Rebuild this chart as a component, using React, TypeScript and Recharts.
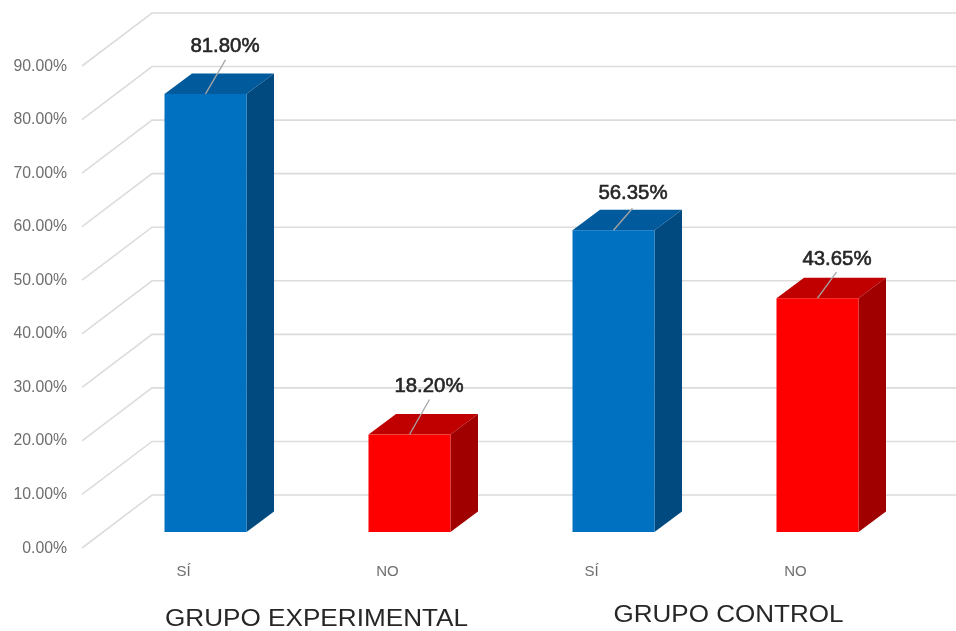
import React from "react";
import { BarChart, Bar, XAxis, YAxis, CartesianGrid, LabelList } from "recharts";

const categories = ["SÍ", "NO", "SÍ", "NO"];
const values = [81.8, 18.2, 56.35, 43.65];
const yTicks = [0, 10, 20, 30, 40, 50, 60, 70, 80, 90];
const groupNames = ["GRUPO EXPERIMENTAL", "GRUPO CONTROL"];
const data = categories.map((name, i) => ({ key: i, name, value: values[i] }));

const FONT = "'Liberation Sans', Arial, sans-serif";
const DX = 27.5;
const DY = 20.5;
const FRONT = ["#0070c0", "#ff0000", "#0070c0", "#ff0000"];
const TOP = ["#005a9c", "#c00000", "#005a9c", "#c00000"];
const SIDE = ["#004a80", "#a00000", "#004a80", "#a00000"];
const LABEL_RISE = [49, 50, 38, 40];
const LEADER = [[20, 34], [20, 35], [19, 22], [19, 26]];
const GROUP_POS = [{ dx: -40.5, y: 626, len: 303 }, { dx: 0, y: 622, len: 230 }];

function Box3D(props: any) {
  const { x, y, width: w, height: h, index } = props;
  return (
    <g>
      <polygon
        points={`${x},${y} ${x + DX},${y - DY} ${x + w + DX},${y - DY} ${x + w},${y}`}
        fill={TOP[index]}
      />
      <polygon
        points={`${x + w},${y} ${x + w + DX},${y - DY} ${x + w + DX},${y + h - DY} ${x + w},${y + h}`}
        fill={SIDE[index]}
      />
      <rect x={x} y={y} width={w} height={h} fill={FRONT[index]} />
    </g>
  );
}

function ValueLabel(props: any) {
  const { x, y, width: w, value, index } = props;
  const cx = x + w / 2;
  const [lx, ly] = LEADER[index];
  return (
    <g>
      <line x1={cx} y1={y} x2={cx + lx} y2={y - ly} stroke="#a6a6a6" strokeWidth={1.3} />
      <text
        x={cx + 19.5}
        y={y - LABEL_RISE[index]}
        textAnchor="middle"
        dominantBaseline="central"
        fontFamily={FONT}
        fontSize={20.4}
        fill="#262626"
        stroke="#262626"
        strokeWidth={0.6}
      >
        {Number(value).toFixed(2)}%
      </text>
    </g>
  );
}

function YTick(props: any) {
  const { y, payload } = props;
  return (
    <text
      x={67}
      y={y + 15}
      textAnchor="end"
      dominantBaseline="central"
      fontFamily={FONT}
      fontSize={15.8}
      fill="#6e6e6e"
    >
      {Number(payload.value).toFixed(2)}%
    </text>
  );
}

function XTick(props: any) {
  const { x, y, payload, index } = props;
  const even = index % 2 === 0;
  const pos = GROUP_POS[index / 2];
  return (
    <g>
      <text
        x={x - 22}
        y={y + 30}
        textAnchor="middle"
        dominantBaseline="central"
        fontFamily={FONT}
        fontSize={15}
        fill="#6e6e6e"
      >
        {categories[payload.value]}
      </text>
      {even ? (
        <text
          x={x + pos.dx}
          y={pos.y}
          textLength={pos.len}
          lengthAdjust="spacingAndGlyphs"
          fontFamily={FONT}
          fontSize={23}
          fill="#262626"
        >
          {groupNames[index / 2]}
        </text>
      ) : null}
    </g>
  );
}

function WallLine(props: any) {
  const { y1 } = props;
  return (
    <path
      d={`M82,${y1 + 16} L152,${y1 - 37} L956,${y1 - 37}`}
      fill="none"
      stroke="#dcdcdc"
      strokeWidth={1.6}
    />
  );
}

export default function App() {
  return (
    <div style={{ position: "absolute", left: 0, top: 0, width: 956, height: 631, filter: "blur(0.45px)" }}>
      <BarChart
        width={956}
        height={631}
        data={data}
        margin={{ top: 50, right: 36.5, bottom: 0, left: 0 }}
        barSize={82}
      >
        <CartesianGrid vertical={false} horizontal={WallLine as any} />
        <XAxis
          dataKey="key"
          height={99}
          interval={0}
          axisLine={false}
          tickLine={false}
          tick={XTick as any}
        />
        <YAxis
          width={103.5}
          domain={[0, 90]}
          ticks={yTicks}
          interval={0}
          axisLine={false}
          tickLine={false}
          tick={YTick as any}
        />
        <Bar dataKey="value" isAnimationActive={false} shape={Box3D as any}>
          <LabelList dataKey="value" content={ValueLabel as any} />
        </Bar>
      </BarChart>
    </div>
  );
}
